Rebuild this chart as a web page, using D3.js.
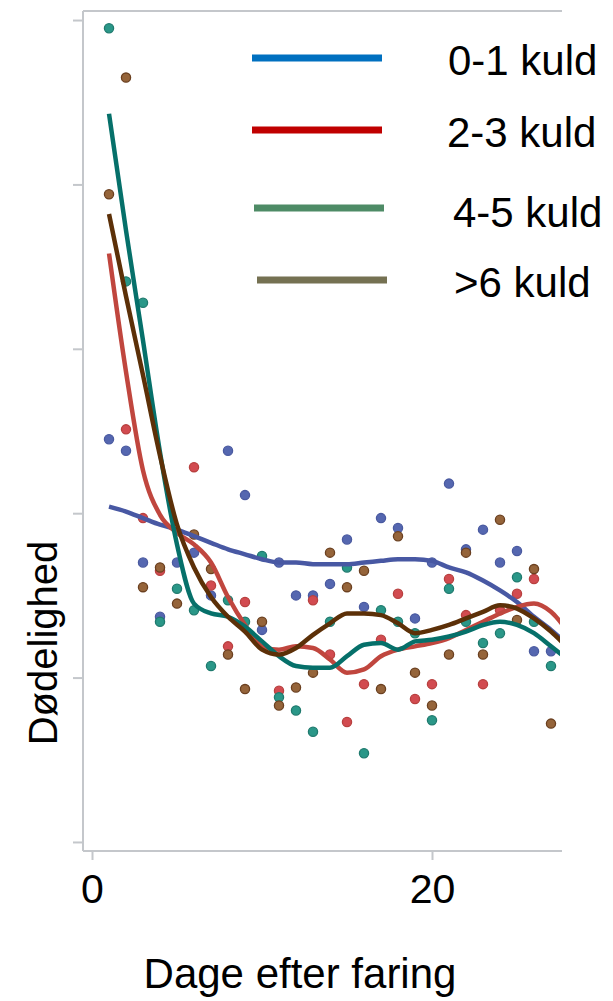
<!DOCTYPE html>
<html>
<head>
<meta charset="utf-8">
<script src="https://d3js.org/d3.v7.min.js"></script>
<style>
  body { margin: 0; background: #fff; }
  text { font-family: "Liberation Sans", Arial, sans-serif; fill: #000; }
</style>
</head>
<body>
<div id="chart"></div>
<script>
(function(){
// days after farrowing
var days = d3.range(1, 28);
var smoothDays = d3.range(1, 29);

// observed mortality per day (null = not visible)
var blue01 = [2.45,2.38,1.70,1.37,1.70,1.76,1.50,2.38,2.11,1.29,1.70,1.50,1.50,1.57,1.84,1.43,1.97,1.91,1.36,1.70,2.18,1.78,1.90,1.70,1.77,1.16,1.16];
var red23 = [null,2.51,1.97,1.65,null,2.28,1.56,1.19,1.46,null,0.92,null,1.47,1.14,0.73,0.96,1.23,1.51,0.87,0.96,1.60,1.38,0.96,1.41,1.51,1.60,null];
var teal45 = [4.95,3.41,3.28,1.34,1.54,1.41,1.07,1.47,1.34,1.74,0.88,0.80,0.67,1.34,1.67,0.54,1.41,1.34,1.27,0.74,1.54,1.34,1.21,1.27,1.61,1.34,1.07];
var brown6 = [3.94,4.65,1.55,1.67,1.45,1.87,1.66,1.14,0.93,1.34,0.83,0.94,1.03,1.76,1.55,1.65,0.93,1.86,1.03,0.83,1.14,1.76,1.14,1.96,1.35,1.66,0.72];

// smoothed curves (days 1-28)
var blueSmooth = [2.04,2.01,1.97,1.93,1.90,1.86,1.82,1.78,1.75,1.72,1.70,1.70,1.69,1.69,1.69,1.70,1.71,1.72,1.72,1.71,1.67,1.64,1.59,1.53,1.46,1.37,1.29,1.20];
var redSmooth = [3.58,2.86,2.26,1.99,1.88,1.81,1.70,1.49,1.32,1.19,1.17,1.19,1.18,1.11,1.03,1.05,1.13,1.17,1.19,1.21,1.24,1.29,1.34,1.39,1.43,1.45,1.40,1.28];
var tealSmooth = [4.43,3.72,3.05,2.37,1.81,1.45,1.39,1.37,1.31,1.22,1.13,1.07,1.06,1.06,1.13,1.20,1.21,1.17,1.22,1.23,1.25,1.28,1.32,1.34,1.32,1.27,1.19,1.11];
var brownSmooth = [3.82,3.32,2.84,2.35,1.93,1.67,1.49,1.37,1.28,1.17,1.14,1.18,1.26,1.33,1.39,1.39,1.38,1.33,1.27,1.29,1.32,1.36,1.40,1.44,1.42,1.36,1.28,1.18];

var yTicks = [0,1,2,3,4,5];
var xTicks = [0,20];

var legendLabels = ["0-1 kuld","2-3 kuld","4-5 kuld",">6 kuld"];
var legendColors = ["#0070c0","#c00000","#4e8b66","#757152"];

var series = [
	{pts: blue01, smooth: blueSmooth, dot: "#5567b0", dotStroke: "#4a5aa0", line: "#4858a3"},
	{pts: red23, smooth: redSmooth, dot: "#d24b50", dotStroke: "#b8403f", line: "#c0463e"},
	{pts: teal45, smooth: tealSmooth, dot: "#2a9788", dotStroke: "#1f7a6e", line: "#06706a"},
	{pts: brown6, smooth: brownSmooth, dot: "#95643a", dotStroke: "#6b4020", line: "#5c3008"}
];

var width = 613, height = 1001;
var pLeft = 83, pRight = 560, pTop = 11, pBottom = 851;

var svg = d3.select("#chart")
	.append("svg")
	.attr("width", width)
	.attr("height", height);

var x = d3.scaleLinear().domain([-0.53, 27.53]).range([pLeft, pRight]);
var y = d3.scaleLinear().domain([-0.055, 5.055]).range([pBottom, pTop]);

svg.append("defs").append("clipPath")
	.attr("id", "plotclip")
	.append("rect")
	.attr("x", pLeft).attr("y", pTop)
	.attr("width", pRight - pLeft).attr("height", pBottom - pTop);

// frame
svg.append("line")
	.attr("x1", pLeft).attr("x2", pRight + 2)
	.attr("y1", pTop).attr("y2", pTop)
	.style("stroke", "#c4c7cb").style("stroke-width", "2px");

var yAxis = svg.append("g")
	.attr("transform", "translate(" + pLeft + ",0)")
	.call(d3.axisLeft(y).tickValues(yTicks).tickSize(10).tickFormat(""));

var xAxis = svg.append("g")
	.attr("transform", "translate(0," + pBottom + ")")
	.call(d3.axisBottom(x).tickValues(xTicks).tickSize(9).tickFormat(d3.format("d")));

[yAxis, xAxis].forEach(function(a){
	a.select(".domain").attr("stroke", "#c4c7cb").attr("stroke-width", 2);
	a.selectAll(".tick line").attr("stroke", "#c4c7cb").attr("stroke-width", 2);
});
yAxis.select(".domain").attr("d", "M0," + pTop + "V" + pBottom);
xAxis.select(".domain").attr("d", "M" + pLeft + ",0H" + (pRight + 2));
xAxis.selectAll(".tick text")
	.attr("font-size", "41px")
	.attr("font-family", "Liberation Sans, Arial, sans-serif")
	.attr("fill", "#000")
	.attr("dy", null)
	.attr("y", 52);

var plot = svg.append("g").attr("clip-path", "url(#plotclip)");

// dots
series.forEach(function(s){
	var pts = days.map(function(d, i){ return {day: d, v: s.pts[i]}; })
		.filter(function(p){ return p.v != null; });
	plot.selectAll(null)
		.data(pts)
		.enter().append("circle")
		.attr("cx", function(d){ return x(d.day); })
		.attr("cy", function(d){ return y(d.v); })
		.attr("r", 4.6)
		.attr("fill", s.dot)
		.attr("stroke", s.dotStroke)
		.attr("stroke-width", 1.3);
});

// smoothed lines
var line = d3.line()
	.x(function(d){ return x(d.day); })
	.y(function(d){ return y(d.v); })
	.curve(d3.curveMonotoneX);

series.forEach(function(s){
	plot.append("path")
		.datum(smoothDays.map(function(d, i){ return {day: d, v: s.smooth[i]}; }))
		.attr("d", line)
		.attr("fill", "none")
		.attr("stroke", s.line)
		.attr("stroke-width", 4.5)
		.attr("stroke-linejoin", "round");
});

// legend
var legY = [58, 130, 208, 280];
var legX = [252, 252, 254, 257];
var legTx = [448, 447, 453, 454];
var leg = svg.selectAll(".leg")
	.data(legendLabels)
	.enter().append("g")
	.attr("class", "leg");
leg.append("line")
	.attr("x1", function(d, i){ return legX[i]; })
	.attr("x2", function(d, i){ return legX[i] + 130; })
	.attr("y1", function(d, i){ return legY[i]; })
	.attr("y2", function(d, i){ return legY[i]; })
	.style("stroke", function(d, i){ return legendColors[i]; })
	.style("stroke-width", "7px");
leg.append("text")
	.attr("x", function(d, i){ return legTx[i]; })
	.attr("y", function(d, i){ return [75, 147, 227, 297][i]; })
	.attr("font-size", "42px")
	.text(function(d){ return d; });

// axis titles
svg.append("text")
	.attr("x", 300)
	.attr("y", 988)
	.attr("text-anchor", "middle")
	.attr("font-size", "42px")
	.text("Dage efter faring");

svg.append("text")
	.attr("transform", "translate(57,643) rotate(-90)")
	.attr("text-anchor", "middle")
	.attr("font-size", "40px")
	.text("Dødelighed");
})();
</script>
</body>
</html>
